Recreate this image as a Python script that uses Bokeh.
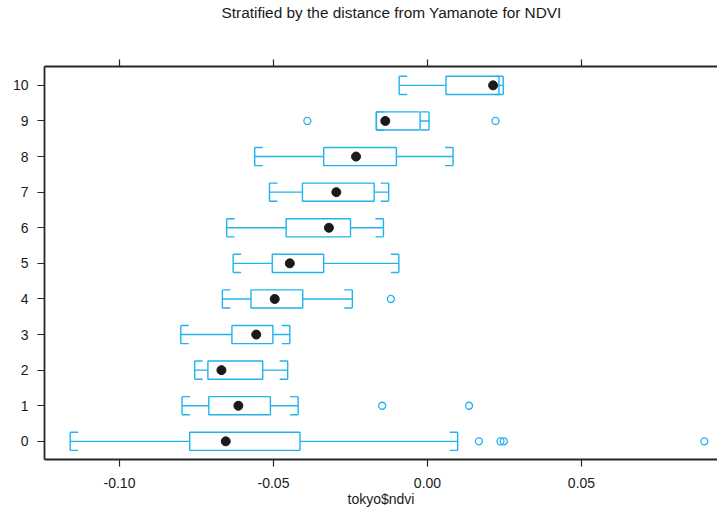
from bokeh.plotting import figure
from bokeh.embed import file_html
from bokeh.resources import INLINE
from bokeh.models import (Range1d, LinearAxis, FixedTicker, NumeralTickFormatter)

# ---- data ----
groups = [0, 1, 2, 3, 4, 5, 6, 7, 8, 9, 10]
lower_whisker = [-0.1160, -0.0797, -0.0756, -0.0801, -0.0666, -0.0631, -0.0652, -0.0513, -0.0561, -0.0166, -0.0092]
q1 = [-0.0772, -0.0710, -0.0713, -0.0635, -0.0573, -0.0504, -0.0459, -0.0406, -0.0337, -0.0166, 0.0060]
median = [-0.0655, -0.0614, -0.0669, -0.0556, -0.0496, -0.0447, -0.0320, -0.0296, -0.0232, -0.0137, 0.0213]
q3 = [-0.0414, -0.0510, -0.0535, -0.0502, -0.0405, -0.0337, -0.0250, -0.0173, -0.0101, -0.0024, 0.0232]
upper_whisker = [0.0098, -0.0420, -0.0454, -0.0447, -0.0244, -0.0093, -0.0143, -0.0126, 0.0083, 0.0005, 0.0246]

outlier_group = [0, 0, 0, 0, 1, 1, 4, 9, 9]
outlier_value = [0.0167, 0.0237, 0.0248, 0.0899, -0.0147, 0.0135, -0.0119, -0.0390, 0.0221]

x_ticks = [-0.10, -0.05, 0.00, 0.05]
title_text = "Stratified by the distance from Yamanote for NDVI"
x_label = "tokyo$ndvi"

# ---- style ----
BLUE = "#22B3EC"
FONT = "Liberation Sans"
half_h = 0.255        # half box height (data units of y)
cap = 0.0026          # bracket cap length (data units of x)

p = figure(width=717, height=509, output_backend="svg", toolbar_location=None,
           x_range=Range1d(-0.12435, 0.09416), y_range=Range1d(-0.51, 10.53),
           x_axis_location=None, y_axis_location=None,
           min_border_left=44, min_border_right=0, min_border_top=0,
           min_border_bottom=0)
p.outline_line_color = None
p.xgrid.visible = False
p.ygrid.visible = False
p.background_fill_color = "white"
p.border_fill_color = "white"

# title
p.title.text = title_text
p.title.align = "left"
p.title.offset = 177
p.title.text_font = FONT
p.title.text_font_size = "15.4px"
p.title.text_font_style = "normal"
p.title.text_color = "#1a1a1a"
p.title.standoff = 2

# boxes
bot = [g - half_h for g in groups]
top = [g + half_h for g in groups]
p.quad(left=q1, right=q3, bottom=bot, top=top, fill_color=None,
       line_color=BLUE, line_width=1.4)

# whisker lines
p.segment(x0=lower_whisker, y0=groups, x1=q1, y1=groups, line_color=BLUE, line_width=1.4)
p.segment(x0=q3, y0=groups, x1=upper_whisker, y1=groups, line_color=BLUE, line_width=1.4)

# brackets
p.segment(x0=lower_whisker, y0=bot, x1=lower_whisker, y1=top, line_color=BLUE, line_width=1.4)
p.segment(x0=upper_whisker, y0=bot, x1=upper_whisker, y1=top, line_color=BLUE, line_width=1.4)
lw_cap = [v + cap for v in lower_whisker]
uw_cap = [v - cap for v in upper_whisker]
for ys in (bot, top):
    p.segment(x0=lower_whisker, y0=ys, x1=lw_cap, y1=ys, line_color=BLUE, line_width=1.4)
    p.segment(x0=upper_whisker, y0=ys, x1=uw_cap, y1=ys, line_color=BLUE, line_width=1.4)

# outliers
p.scatter(x=outlier_value, y=outlier_group, marker="circle", size=7,
          fill_color=None, line_color=BLUE, line_width=1.3)

# medians
p.scatter(x=median, y=groups, marker="circle", size=9,
          fill_color="#1a1a1a", line_color="#1a1a1a")

AX = "#262626"

def style_axis(ax):
    ax.axis_line_color = AX
    ax.axis_line_width = 1.8
    ax.major_tick_line_color = AX
    ax.major_tick_line_width = 1.2
    ax.major_tick_out = 7
    ax.major_tick_in = 0
    ax.minor_tick_line_color = None
    ax.major_label_text_font = FONT
    ax.major_label_text_font_size = "14px"
    ax.major_label_text_color = "#1a1a1a"

# bottom axis
xb = LinearAxis(ticker=FixedTicker(ticks=x_ticks),
                formatter=NumeralTickFormatter(format="0.00"))
style_axis(xb)
xb.major_label_standoff = 11
xb.axis_label = x_label
xb.axis_label_text_font = FONT
xb.axis_label_text_font_size = "14px"
xb.axis_label_text_font_style = "normal"
xb.axis_label_text_color = "#1a1a1a"
xb.axis_label_standoff = 0
p.add_layout(xb, "below")

# top axis (ticks only, no labels)
xt = LinearAxis(ticker=FixedTicker(ticks=x_ticks))
style_axis(xt)
xt.major_label_overrides = {t: "" for t in x_ticks}
xt.major_label_standoff = 0
p.add_layout(xt, "above")

# invisible spacer between the top axis and the title
sp = LinearAxis(ticker=FixedTicker(ticks=x_ticks))
sp.axis_line_color = None
sp.major_tick_line_color = None
sp.minor_tick_line_color = None
sp.major_tick_out = 38
sp.major_tick_in = 0
sp.major_label_overrides = {t: "" for t in x_ticks}
sp.major_label_standoff = 0
p.add_layout(sp, "above")

# left axis
yl = LinearAxis(ticker=FixedTicker(ticks=groups))
style_axis(yl)
yl.major_label_standoff = 9
p.add_layout(yl, "left")

open("out.html", "w").write(file_html(p, INLINE))
